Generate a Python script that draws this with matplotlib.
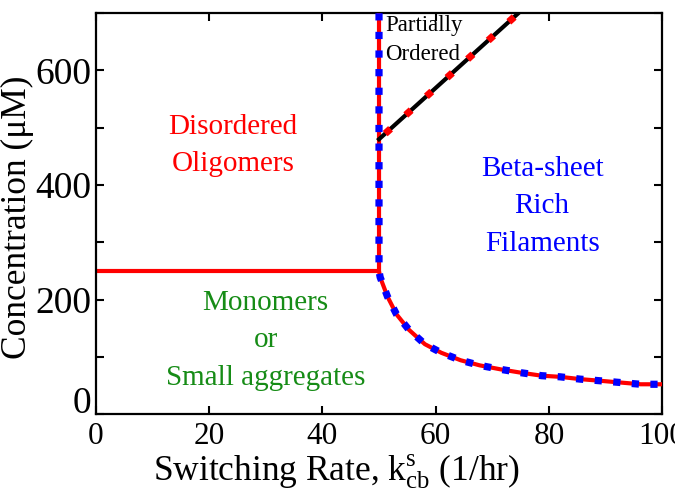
import matplotlib
matplotlib.use("Agg")
import matplotlib.pyplot as plt
from matplotlib.transforms import ScaledTranslation

plt.rcParams['font.family'] = ['Liberation Serif', 'DejaVu Serif']
plt.rcParams['mathtext.fontset'] = 'custom'
plt.rcParams['mathtext.rm'] = 'Liberation Serif'
plt.rcParams['mathtext.it'] = 'Liberation Serif:italic'
plt.rcParams['lines.scale_dashes'] = False

# Phase boundary: monomer / oligomer threshold
mono_x = [0, 50]
mono_y = [250, 250]

# Boundary of beta-sheet rich filaments (vertical part + decaying curve)
fil_x = [50, 50, 50.2, 51.5, 53.1, 55.3, 58.1, 61.0, 64.4, 67.8, 71.5, 75.2,
         78.7, 82.0, 85.5, 89.2, 92.7, 96.2, 100]
fil_y = [700, 250, 239, 205, 174, 147, 122, 107, 94, 85, 78, 72,
         67, 65, 61, 58, 55, 52, 52]

# Partially ordered boundary
po_x = [50, 74.6]
po_y = [480, 700]

xticks = [0, 20, 40, 60, 80, 100]
yticks = [0, 100, 200, 300, 400, 500, 600, 700]
ytick_labels = ['0', '', '200', '', '400', '', '600', '']

fig = plt.figure(figsize=(6.75, 4.9), dpi=100)
ax = fig.add_axes([0.142, 0.155, 0.839, 0.818])

ax.plot(mono_x, mono_y, color='#ff0000', lw=3, solid_capstyle='butt', zorder=2)
ax.plot(fil_x, fil_y, color='#ff0000', lw=3, zorder=3)
ax.plot(fil_x, fil_y, color='#0000ff', lw=5.2, linestyle=(0, (5.2, 8.2)),
        dash_capstyle='butt', zorder=4)
ax.plot(po_x, po_y, color='black', lw=3, zorder=3)
ax.plot(po_x, po_y, color='#ff0000', lw=5.2, linestyle=(-6, (5.2, 14.8)),
        dash_capstyle='butt', zorder=4)

ax.text(24.2, 469, 'Disordered\nOligomers', color='#ff0000', fontsize=21,
        ha='center', va='center', linespacing=1.58)
ax.text(30, 129, 'Monomers\nor\nSmall aggregates', color='#168c16', fontsize=21,
        ha='center', va='center', linespacing=1.58)
ax.text(78.8, 363, 'Beta-sheet\nRich\nFilaments', color='#0000ff', fontsize=21,
        ha='center', va='center', linespacing=1.58)
ax.text(51.1, 653, 'Partially\nOrdered', color='black', fontsize=16.5,
        ha='left', va='center', linespacing=1.5)

ax.set_xlim(0, 100)
ax.set_ylim(0, 700)
ax.set_xticks(xticks)
ax.set_xticklabels([str(t) for t in xticks])
ax.set_yticks(yticks)
ax.set_yticklabels(ytick_labels)
ax.tick_params(direction='in', length=6, width=1.5, top=True, right=True)
ax.tick_params(axis='x', labelsize=22.5, pad=6)
ax.tick_params(axis='y', labelsize=27, pad=3.5)
for s in ax.spines.values():
    s.set_linewidth(1.6)

# lift the "0" label on the y axis, as in the original
lab0 = ax.get_yticklabels()[0]
lab0.set_transform(lab0.get_transform() + ScaledTranslation(0, 14 / 100, fig.dpi_scale_trans))

ax.set_xlabel(r'Switching Rate, $\mathrm{k}^{\mathrm{s}}_{\mathrm{cb}}$ (1/hr)',
              fontsize=25.5, labelpad=0.5, x=0.424)
ax.set_ylabel('Concentration (μM)', fontsize=25.5, labelpad=0.5, y=0.49)

fig.savefig('out.png', dpi=100)
